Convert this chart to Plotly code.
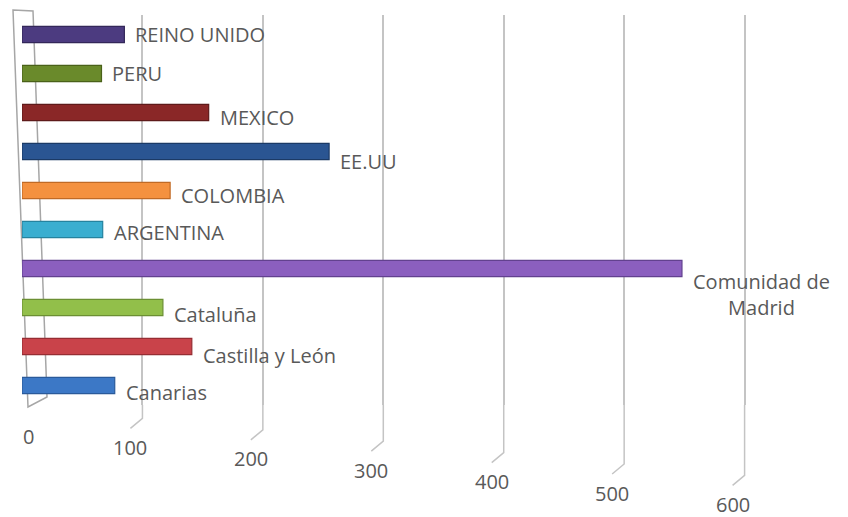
import plotly.graph_objects as go

# Categories listed bottom to top, as they stack on the category axis
categories = ["Canarias", "Castilla y León", "Cataluña", "Comunidad de Madrid",
              "ARGENTINA", "COLOMBIA", "EE.UU", "MEXICO", "PERU", "REINO UNIDO"]
values = [77, 141, 117, 548, 67, 123, 255, 155, 66, 85]
bar_labels = ["Canarias", "Castilla y León", "Cataluña", "Comunidad de<br>Madrid",
              "ARGENTINA", "COLOMBIA", "EE.UU", "MEXICO", "PERU", "REINO UNIDO"]

tick_values = [0, 100, 200, 300, 400, 500, 600]
tick_labels = ["0", "100", "200", "300", "400", "500", "600"]

# Fill and edge colours per bar (same order as categories)
bar_colors = ["#3c78c6", "#c9434a", "#92bf4a", "#8b5fbf", "#3aaed0",
              "#f4913f", "#2a5592", "#8a2727", "#6a8a2b", "#4c3b80"]
edge_colors = ["#2a5a9a", "#962d33", "#6b8f33", "#62418f", "#25839f",
               "#c06a25", "#1b3a66", "#5e1a1a", "#4a6119", "#332759"]

FONT = "'Open Sans', Calibri, sans-serif"
TEXT = "#595959"
GRID = "#c4c4c4"
WALL = "#a6a6a6"
SIZE = 20

# Floor geometry (pixels): how far each gridline drops below the plot,
# and the short forward hook at its foot
STEP = 11.4
FIRST = 31
HOOK_DX, HOOK_DY = -12, 10
WALL_FOOT_DX = 6   # front-left corner of the side wall, relative to x = 0

fig = go.Figure()
fig.add_trace(go.Bar(
    x=values,
    y=categories,
    orientation="h",
    width=0.42,
    marker=dict(color=bar_colors, line=dict(color=edge_colors, width=1.2)),
    hoverinfo="x+y",
    showlegend=False,
))

annotations = []
# Category name beside the end of each bar; bars further out and further
# down recede more, so their label sits a little lower
n = len(categories)
for k, (cat, val, lab) in enumerate(zip(categories, values, bar_labels)):
    drop = 0.045 * val + 0.8 * ((n - 1) / 2 - k)
    annotations.append(dict(
        x=val, y=cat, xref="x", yref="y", text=lab, showarrow=False,
        xanchor="left", yanchor="middle", align="center",
        xshift=9, yshift=-drop,
        font=dict(family=FONT, size=SIZE, color=TEXT),
    ))

# Value-axis labels sit under the foot of each gridline
for i, (tv, tl) in enumerate(zip(tick_values, tick_labels)):
    dx = WALL_FOOT_DX if i == 0 else HOOK_DX
    annotations.append(dict(
        x=tv, y=0, xref="x", yref="paper", text=tl, showarrow=False,
        xanchor="center", yanchor="middle", xshift=dx, yshift=-(FIRST + i * STEP),
        font=dict(family=FONT, size=SIZE, color=TEXT),
    ))

shapes = []
# Side wall outline at the base of the value axis (behind the bars)
shapes.append(dict(
    type="path", xref="paper", yref="paper", xsizemode="pixel", ysizemode="pixel",
    xanchor=0, yanchor=0, layer="below",
    path=f"M -9,395 L 11,394 L 25,8 L {WALL_FOOT_DX},-2 Z",
    line=dict(color=WALL, width=1.5),
))
# Floor part of each gridline: drop below the plot, then a short hook forward
for i, tv in enumerate(tick_values[1:], start=1):
    d = 2 + i * STEP
    shapes.append(dict(
        type="path", xref="x", yref="paper", xsizemode="pixel", ysizemode="pixel",
        xanchor=tv, yanchor=0, layer="below",
        path=f"M 0,0 L 0,{-d:.1f} L {HOOK_DX},{-(d + HOOK_DY):.1f}",
        line=dict(color=GRID, width=1.5),
    ))

fig.update_layout(
    width=848, height=517,
    margin=dict(l=22, r=101, t=15, b=112),
    paper_bgcolor="white", plot_bgcolor="white",
    font=dict(family=FONT, color=TEXT),
    xaxis=dict(range=[0, 602], tickvals=tick_values[1:], showticklabels=False,
               showgrid=True, gridcolor=GRID, gridwidth=1.5,
               zeroline=False, showline=False, ticks=""),
    yaxis=dict(type="category", categoryorder="array", categoryarray=categories,
               range=[-0.5, 9.5], showticklabels=False, showgrid=False,
               zeroline=False, showline=False, ticks=""),
    annotations=annotations,
    shapes=shapes,
)

fig.write_html("out.html")
